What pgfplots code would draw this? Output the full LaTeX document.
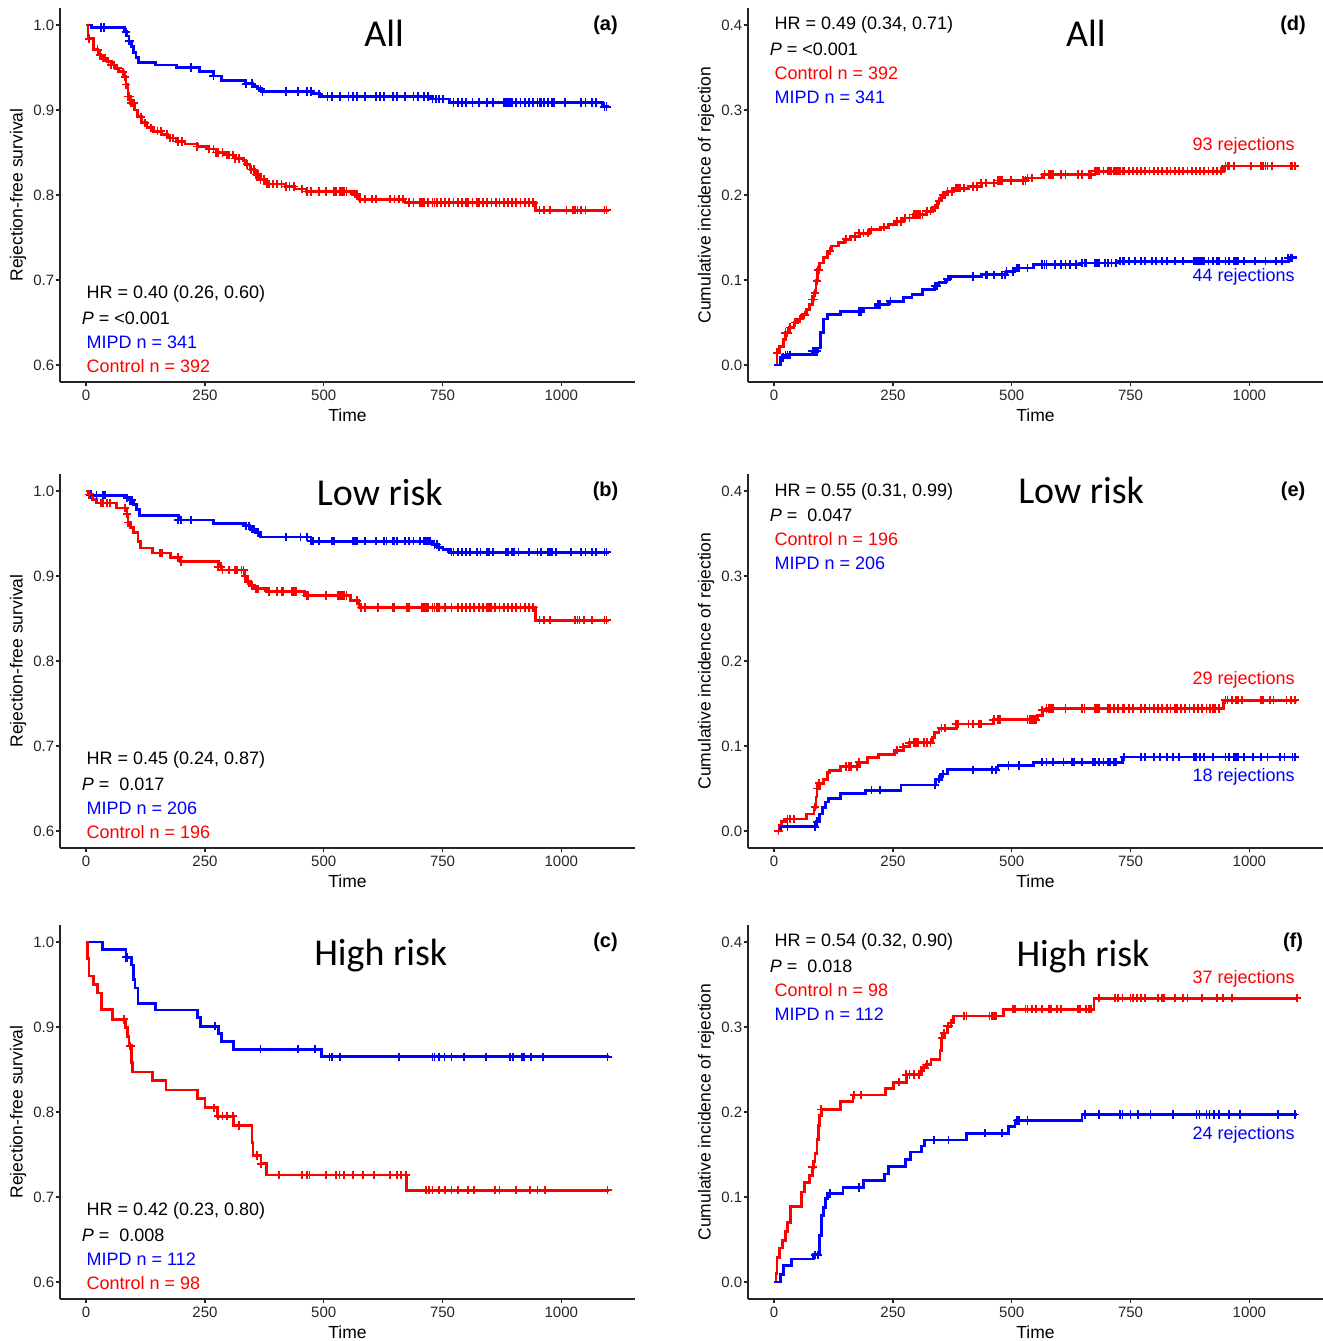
\documentclass[border=0pt]{standalone}
\usepackage{fontspec}
\setmainfont{Liberation Sans}
\newfontfamily\titlefont{Carlito}
\usepackage{pgfplots}
\pgfplotsset{compat=1.18}
\definecolor{kred}{RGB}{255,0,0}
\definecolor{kblue}{RGB}{0,0,255}
\newcommand\annf{\fontsize{9}{10.5}\selectfont}
\newcommand\ttlf{\titlefont\fontsize{19}{22}\selectfont}
\newcommand\letf{\bfseries\fontsize{10}{11}\selectfont}
\tikzset{ann/.style={font=\annf, anchor=west, inner xsep=0pt}}
\pgfplotsset{
 base/.style={
  scale only axis, width=287.5pt, height=187pt,
  anchor=south west,
  axis x line=bottom, axis y line=left,
  axis line style={-, line width=0.8pt, black!85},
  tick style={line width=0.7pt, black!85},
  tick align=outside, major tick length=2.2pt,
  xmin=-55, xmax=1155,
  xtick={0,250,500,750,1000},
  ticklabel style={font=\fontsize{7.5}{9}\selectfont, text=black!85},
  /pgf/number format/assume math mode=true,
  /pgf/number format/1000 sep={},
  yticklabel style={/pgf/number format/.cd, fixed, fixed zerofill, precision=1, assume math mode=true, /tikz/.cd, inner xsep=0.5pt},
  xticklabel style={inner ysep=1.5pt},
  xlabel={Time},
  xlabel style={at={(axis description cs:0.5,-0.0882)}, anchor=center, font=\fontsize{8.75}{10}\selectfont},
  ylabel style={at={(axis description cs:-0.073,0.5)}, anchor=center, font=\fontsize{8.75}{10}\selectfont},
  clip=false,
 },
 surv/.style={base, ymin=0.58, ymax=1.02, ytick={0.6,0.7,0.8,0.9,1.0}, ylabel={Rejection-free survival}},
 cinc/.style={base, ymin=-0.02, ymax=0.42, ytick={0,0.1,0.2,0.3,0.4}, ylabel={Cumulative incidence of rejection}},
 stp/.style={const plot, no marks, line width=1.4pt, #1},
 cen/.style={only marks, mark=+, mark size=2.1pt, line width=0.9pt, #1},
}
\begin{document}
\begin{tikzpicture}
\useasboundingbox (0,0) rectangle (661.5pt,670.5pt);

% ---------------- (a)
\begin{axis}[surv, at={(30pt,479.5pt)}]
\addplot[stp=kblue] coordinates {(0,1.000)(12,0.997)(80,0.992)(85,0.987)(90,0.981)(95,0.975)(100,0.968)(105,0.962)(110,0.956)(146,0.953)(190,0.950)(238,0.945)(268,0.940)(285,0.935)(335,0.931)(350,0.928)(360,0.925)(370,0.922)(477,0.919)(492,0.916)(729,0.913)(765,0.909)(1087,0.904)(1100,0.904)};
\addplot[cen=kblue] coordinates {(31,0.997)(38,0.997)(84,0.992)(91,0.981)(221,0.950)(268,0.940)(336,0.931)(349,0.931)(367,0.925)(371,0.922)(420,0.922)(446,0.922)(464,0.922)(473,0.922)(490,0.919)(508,0.916)(517,0.916)(534,0.916)(552,0.916)(561,0.916)(570,0.916)(587,0.916)(610,0.916)(618,0.916)(627,0.916)(645,0.916)(654,0.916)(671,0.916)(689,0.916)(698,0.916)(711,0.916)(720,0.916)(729,0.913)(736,0.913)(742,0.913)(751,0.913)(773,0.909)(782,0.909)(791,0.909)(799,0.909)(813,0.909)(826,0.909)(844,0.909)(857,0.909)(879,0.909)(883,0.909)(888,0.909)(892,0.909)(897,0.909)(905,0.909)(914,0.909)(923,0.909)(932,0.909)(941,0.909)(950,0.909)(954,0.909)(958,0.909)(963,0.909)(972,0.909)(981,0.909)(985,0.909)(1007,0.909)(1042,0.909)(1051,0.909)(1064,0.909)(1073,0.909)(1091,0.904)(1095,0.904)};
\addplot[stp=kred] coordinates {(0,1.000)(4,0.984)(15,0.971)(25,0.965)(31,0.961)(44,0.957)(53,0.953)(62,0.949)(69,0.945)(78,0.939)(84,0.930)(88,0.916)(94,0.908)(101,0.900)(108,0.892)(117,0.885)(128,0.879)(141,0.875)(159,0.871)(172,0.867)(190,0.863)(208,0.860)(234,0.857)(256,0.854)(274,0.850)(292,0.847)(314,0.843)(331,0.841)(336,0.836)(345,0.830)(354,0.824)(367,0.818)(380,0.813)(420,0.810)(438,0.807)(464,0.804)(561,0.801)(575,0.795)(671,0.791)(945,0.782)(1100,0.782)};
\addplot[cen=kred] coordinates {(6,0.984)(24,0.971)(29,0.965)(35,0.961)(40,0.961)(47,0.957)(53,0.953)(59,0.953)(66,0.949)(77,0.945)(82,0.939)(84,0.930)(88,0.916)(91,0.916)(95,0.908)(97,0.908)(100,0.908)(115,0.892)(124,0.885)(137,0.879)(150,0.875)(157,0.875)(170,0.871)(177,0.867)(183,0.867)(194,0.863)(201,0.863)(234,0.857)(259,0.854)(268,0.854)(274,0.850)(278,0.850)(287,0.850)(296,0.847)(300,0.847)(309,0.847)(314,0.843)(322,0.843)(338,0.836)(347,0.830)(353,0.830)(358,0.824)(362,0.824)(367,0.818)(374,0.818)(380,0.813)(384,0.813)(393,0.813)(402,0.813)(411,0.813)(420,0.810)(428,0.810)(437,0.810)(455,0.807)(464,0.804)(473,0.804)(490,0.804)(504,0.804)(521,0.804)(526,0.804)(534,0.804)(539,0.804)(543,0.804)(548,0.804)(565,0.801)(570,0.801)(577,0.795)(587,0.795)(601,0.795)(610,0.795)(640,0.795)(649,0.795)(658,0.795)(667,0.795)(680,0.791)(689,0.791)(702,0.791)(707,0.791)(711,0.791)(720,0.791)(729,0.791)(733,0.791)(738,0.791)(746,0.791)(755,0.791)(764,0.791)(773,0.791)(782,0.791)(791,0.791)(800,0.791)(804,0.791)(813,0.791)(822,0.791)(826,0.791)(835,0.791)(844,0.791)(853,0.791)(862,0.791)(870,0.791)(879,0.791)(888,0.791)(897,0.791)(905,0.791)(914,0.791)(923,0.791)(932,0.791)(941,0.791)(954,0.782)(963,0.782)(976,0.782)(1011,0.782)(1025,0.782)(1029,0.782)(1034,0.782)(1042,0.782)(1051,0.782)(1091,0.782)(1095,0.782)};
\node[font=\ttlf] at (axis cs:627,0.9906) {All};
\node[font=\letf] at (axis cs:1093,1.0) {(a)};
\node[ann] at (axis cs:0,0.6833) {HR = 0.40 (0.26, 0.60)};
\node[ann] at (axis cs:-10,0.6551) {\textit{P} = <0.001};
\node[ann, text=kblue] at (axis cs:0,0.6270) {MIPD n = 341};
\node[ann, text=kred] at (axis cs:0,0.5988) {Control n = 392};
\end{axis}

% ---------------- (d)
\begin{axis}[cinc, at={(374pt,479.5pt)}]
\addplot[stp=kred] coordinates {(0,0)(6,0.0145)(11,0.022)(19,0.030)(24,0.038)(33,0.044)(42,0.050)(50,0.054)(59,0.059)(68,0.065)(74,0.071)(80,0.077)(84,0.085)(88,0.099)(92,0.112)(96,0.120)(104,0.126)(112,0.134)(121,0.140)(135,0.144)(148,0.148)(161,0.151)(179,0.155)(201,0.159)(223,0.162)(241,0.165)(254,0.169)(272,0.173)(294,0.177)(321,0.181)(334,0.185)(343,0.193)(352,0.200)(365,0.204)(378,0.208)(409,0.210)(436,0.214)(471,0.217)(533,0.220)(564,0.224)(675,0.228)(945,0.234)(1100,0.234)};
\addplot[cen=kred] coordinates {(6,0.0145)(24,0.038)(28,0.038)(33,0.044)(44,0.050)(55,0.054)(64,0.059)(80,0.077)(83,0.077)(86,0.085)(90,0.099)(92,0.112)(95,0.112)(117,0.134)(152,0.148)(170,0.151)(179,0.155)(188,0.155)(197,0.155)(205,0.159)(232,0.162)(259,0.169)(267,0.169)(276,0.173)(285,0.173)(294,0.177)(298,0.177)(303,0.177)(307,0.177)(312,0.177)(321,0.181)(329,0.181)(338,0.185)(347,0.193)(356,0.200)(360,0.200)(365,0.204)(374,0.204)(383,0.208)(387,0.208)(391,0.208)(400,0.208)(418,0.210)(427,0.210)(436,0.214)(445,0.214)(462,0.214)(471,0.217)(476,0.217)(480,0.217)(498,0.217)(524,0.217)(529,0.217)(533,0.220)(542,0.220)(569,0.224)(578,0.224)(582,0.224)(586,0.224)(604,0.224)(613,0.224)(640,0.224)(648,0.224)(662,0.224)(666,0.224)(675,0.228)(679,0.228)(684,0.228)(693,0.228)(702,0.228)(706,0.228)(710,0.228)(715,0.228)(719,0.228)(724,0.228)(728,0.228)(733,0.228)(737,0.228)(746,0.228)(755,0.228)(764,0.228)(772,0.228)(781,0.228)(790,0.228)(799,0.228)(808,0.228)(817,0.228)(826,0.228)(834,0.228)(843,0.228)(852,0.228)(861,0.228)(870,0.228)(879,0.228)(887,0.228)(896,0.228)(905,0.228)(914,0.228)(923,0.228)(932,0.228)(941,0.228)(950,0.234)(954,0.234)(958,0.234)(967,0.234)(1003,0.234)(1025,0.234)(1029,0.234)(1034,0.234)(1038,0.234)(1047,0.234)(1087,0.234)(1091,0.234)(1096,0.234)};
\addplot[stp=kblue] coordinates {(0,0)(13,0.0086)(28,0.012)(81,0.016)(92,0.020)(97,0.038)(104,0.054)(112,0.059)(139,0.063)(188,0.067)(214,0.071)(241,0.075)(272,0.079)(290,0.083)(312,0.089)(338,0.093)(347,0.097)(360,0.101)(369,0.104)(436,0.106)(489,0.110)(507,0.114)(546,0.118)(648,0.120)(724,0.122)(1082,0.126)(1100,0.126)};
\addplot[cen=kblue] coordinates {(19,0.0086)(24,0.012)(28,0.012)(33,0.012)(81,0.016)(86,0.016)(90,0.016)(179,0.063)(183,0.063)(219,0.071)(223,0.071)(245,0.075)(338,0.093)(343,0.093)(365,0.101)(418,0.104)(445,0.106)(449,0.106)(462,0.106)(480,0.106)(485,0.106)(489,0.110)(502,0.110)(511,0.114)(516,0.114)(533,0.114)(564,0.118)(569,0.118)(573,0.118)(591,0.118)(604,0.118)(613,0.118)(622,0.118)(635,0.118)(648,0.120)(653,0.120)(657,0.120)(675,0.120)(679,0.120)(684,0.120)(697,0.120)(702,0.120)(710,0.120)(719,0.120)(728,0.122)(733,0.122)(737,0.122)(746,0.122)(759,0.122)(772,0.122)(781,0.122)(795,0.122)(803,0.122)(817,0.122)(826,0.122)(843,0.122)(861,0.122)(883,0.122)(887,0.122)(892,0.122)(896,0.122)(901,0.122)(905,0.122)(914,0.122)(923,0.122)(932,0.122)(936,0.122)(950,0.122)(958,0.122)(967,0.122)(972,0.122)(976,0.122)(989,0.122)(1012,0.122)(1034,0.122)(1056,0.122)(1069,0.122)(1082,0.126)(1087,0.126)(1091,0.126)};
\node[font=\ttlf] at (axis cs:656,0.3906) {All};
\node[font=\letf] at (axis cs:1092,0.4) {(d)};
\node[ann] at (axis cs:0,0.4) {HR = 0.49 (0.34, 0.71)};
\node[ann] at (axis cs:-10,0.3718) {\textit{P} = <0.001};
\node[ann, text=kred] at (axis cs:0,0.3437) {Control n = 392};
\node[ann, text=kblue] at (axis cs:0,0.3155) {MIPD n = 341};
\node[font=\annf, anchor=east, inner xsep=0pt, text=kred] at (axis cs:1096,0.258) {93 rejections};
\node[font=\annf, anchor=east, inner xsep=0pt, text=kblue] at (axis cs:1096,0.1032) {44 rejections};
\end{axis}

% ---------------- (b)
\begin{axis}[surv, at={(30pt,246.5pt)}]
\addplot[stp=kblue] coordinates {(0,1.000)(9,0.995)(84,0.992)(93,0.989)(100,0.984)(106,0.978)(113,0.971)(194,0.966)(268,0.962)(336,0.959)(345,0.955)(358,0.951)(367,0.946)(473,0.941)(729,0.937)(740,0.934)(751,0.931)(764,0.928)(1100,0.928)};
\addplot[cen=kblue] coordinates {(9,0.995)(22,0.995)(35,0.995)(40,0.995)(86,0.992)(93,0.989)(97,0.989)(194,0.966)(199,0.966)(221,0.966)(336,0.959)(343,0.959)(349,0.955)(353,0.955)(362,0.951)(420,0.946)(451,0.946)(464,0.946)(473,0.941)(477,0.941)(490,0.941)(517,0.941)(521,0.941)(561,0.941)(565,0.941)(570,0.941)(587,0.941)(610,0.941)(627,0.941)(632,0.941)(645,0.941)(649,0.941)(654,0.941)(671,0.941)(680,0.941)(689,0.941)(702,0.941)(711,0.941)(716,0.941)(720,0.941)(724,0.941)(733,0.937)(738,0.937)(742,0.934)(769,0.928)(773,0.928)(782,0.928)(791,0.928)(799,0.928)(808,0.928)(822,0.928)(830,0.928)(844,0.928)(848,0.928)(857,0.928)(883,0.928)(888,0.928)(897,0.928)(901,0.928)(910,0.928)(932,0.928)(950,0.928)(958,0.928)(972,0.928)(976,0.928)(981,0.928)(989,0.928)(1020,0.928)(1042,0.928)(1051,0.928)(1064,0.928)(1073,0.928)(1091,0.928)(1095,0.928)};
\addplot[stp=kred] coordinates {(0,1.000)(4,0.996)(13,0.990)(22,0.986)(64,0.980)(86,0.973)(88,0.963)(93,0.957)(100,0.951)(109,0.941)(115,0.933)(139,0.927)(177,0.922)(199,0.917)(278,0.911)(285,0.907)(333,0.900)(336,0.894)(343,0.889)(353,0.885)(380,0.882)(459,0.877)(557,0.871)(574,0.863)(945,0.848)(1100,0.848)};
\addplot[cen=kred] coordinates {(6,0.996)(31,0.986)(35,0.986)(44,0.986)(50,0.986)(82,0.980)(86,0.973)(88,0.963)(155,0.927)(159,0.927)(194,0.922)(199,0.917)(278,0.911)(283,0.911)(287,0.907)(300,0.907)(314,0.907)(318,0.907)(327,0.907)(331,0.907)(334,0.900)(340,0.894)(349,0.889)(358,0.885)(362,0.885)(384,0.882)(402,0.882)(411,0.882)(415,0.882)(433,0.882)(437,0.882)(442,0.882)(464,0.877)(468,0.877)(504,0.877)(530,0.877)(534,0.877)(539,0.877)(543,0.877)(548,0.877)(570,0.871)(579,0.863)(587,0.863)(614,0.863)(645,0.863)(649,0.863)(676,0.863)(680,0.863)(707,0.863)(711,0.863)(716,0.863)(720,0.863)(729,0.863)(733,0.863)(738,0.863)(742,0.863)(755,0.863)(769,0.863)(782,0.863)(791,0.863)(799,0.863)(808,0.863)(817,0.863)(826,0.863)(835,0.863)(844,0.863)(848,0.863)(852,0.863)(861,0.863)(870,0.863)(879,0.863)(888,0.863)(897,0.863)(905,0.863)(914,0.863)(923,0.863)(932,0.863)(941,0.863)(954,0.848)(963,0.848)(976,0.848)(1029,0.848)(1034,0.848)(1038,0.848)(1047,0.848)(1064,0.848)(1091,0.848)(1095,0.848)};
\node[font=\ttlf] at (axis cs:618,0.998) {Low risk};
\node[font=\letf] at (axis cs:1093,1.0) {(b)};
\node[ann] at (axis cs:0,0.6833) {HR = 0.45 (0.24, 0.87)};
\node[ann] at (axis cs:-10,0.6551) {\textit{P} =\ \ 0.017};
\node[ann, text=kblue] at (axis cs:0,0.6270) {MIPD n = 206};
\node[ann, text=kred] at (axis cs:0,0.5988) {Control n = 196};
\end{axis}

% ---------------- (e)
\begin{axis}[cinc, at={(374pt,246.5pt)}]
\addplot[stp=kred] coordinates {(0,0)(11,0.007)(15,0.011)(24,0.014)(68,0.020)(84,0.028)(88,0.040)(90,0.050)(95,0.056)(104,0.061)(112,0.069)(117,0.071)(139,0.076)(179,0.081)(197,0.086)(219,0.090)(254,0.095)(272,0.099)(285,0.104)(334,0.110)(338,0.116)(347,0.121)(383,0.126)(462,0.131)(555,0.136)(564,0.142)(573,0.144)(945,0.154)(1100,0.154)};
\addplot[cen=kred] coordinates {(9,0.0)(28,0.014)(33,0.014)(42,0.014)(86,0.028)(90,0.050)(95,0.056)(152,0.076)(157,0.076)(161,0.076)(174,0.076)(179,0.081)(259,0.095)(272,0.099)(285,0.104)(294,0.104)(298,0.104)(303,0.104)(316,0.104)(321,0.104)(329,0.104)(352,0.121)(360,0.121)(383,0.126)(387,0.126)(409,0.126)(418,0.126)(431,0.126)(436,0.126)(462,0.131)(471,0.131)(476,0.131)(533,0.131)(538,0.131)(542,0.131)(546,0.131)(551,0.131)(564,0.142)(573,0.144)(578,0.144)(582,0.144)(586,0.144)(613,0.144)(648,0.144)(653,0.144)(675,0.144)(679,0.144)(684,0.144)(702,0.144)(706,0.144)(715,0.144)(724,0.144)(733,0.144)(737,0.144)(746,0.144)(755,0.144)(772,0.144)(781,0.144)(790,0.144)(799,0.144)(808,0.144)(817,0.144)(826,0.144)(834,0.144)(843,0.144)(848,0.144)(857,0.144)(865,0.144)(874,0.144)(883,0.144)(892,0.144)(901,0.144)(910,0.144)(918,0.144)(923,0.144)(927,0.144)(936,0.144)(950,0.154)(954,0.154)(963,0.154)(972,0.154)(976,0.154)(985,0.154)(1025,0.154)(1029,0.154)(1043,0.154)(1051,0.154)(1078,0.154)(1087,0.154)(1096,0.154)};
\addplot[stp=kblue] coordinates {(0,0)(13,0.005)(89,0.011)(95,0.020)(101,0.028)(108,0.034)(115,0.038)(139,0.044)(192,0.048)(267,0.054)(340,0.061)(352,0.067)(365,0.072)(471,0.077)(546,0.081)(733,0.087)(1100,0.087)};
\addplot[cen=kblue] coordinates {(28,0.005)(86,0.005)(90,0.011)(205,0.048)(223,0.048)(338,0.054)(347,0.061)(356,0.067)(418,0.072)(458,0.072)(467,0.072)(493,0.077)(516,0.077)(564,0.081)(573,0.081)(586,0.081)(609,0.081)(626,0.081)(631,0.081)(648,0.081)(671,0.081)(675,0.081)(684,0.081)(693,0.081)(702,0.081)(706,0.081)(715,0.081)(719,0.081)(737,0.087)(772,0.087)(781,0.087)(799,0.087)(812,0.087)(826,0.087)(839,0.087)(852,0.087)(883,0.087)(887,0.087)(896,0.087)(905,0.087)(923,0.087)(950,0.087)(958,0.087)(967,0.087)(972,0.087)(976,0.087)(989,0.087)(1007,0.087)(1025,0.087)(1038,0.087)(1065,0.087)(1074,0.087)(1091,0.087)(1096,0.087)};
\node[font=\ttlf] at (axis cs:646,0.401) {Low risk};
\node[font=\letf] at (axis cs:1092,0.4) {(e)};
\node[ann] at (axis cs:0,0.399) {HR = 0.55 (0.31, 0.99)};
\node[ann] at (axis cs:-10,0.3718) {\textit{P} =\ \ 0.047};
\node[ann, text=kred] at (axis cs:0,0.3437) {Control n = 196};
\node[ann, text=kblue] at (axis cs:0,0.3155) {MIPD n = 206};
\node[font=\annf, anchor=east, inner xsep=0pt, text=kred] at (axis cs:1096,0.1783) {29 rejections};
\node[font=\annf, anchor=east, inner xsep=0pt, text=kblue] at (axis cs:1096,0.0633) {18 rejections};
\end{axis}

% ---------------- (c)
\begin{axis}[surv, at={(30pt,21pt)}]
\addplot[stp=kblue] coordinates {(0,1.000)(35,0.991)(84,0.982)(95,0.973)(100,0.956)(103,0.946)(109,0.928)(146,0.920)(234,0.911)(241,0.901)(278,0.892)(285,0.883)(310,0.874)(495,0.865)(1100,0.865)};
\addplot[cen=kblue] coordinates {(84,0.982)(86,0.982)(271,0.901)(367,0.874)(446,0.874)(481,0.874)(512,0.865)(517,0.865)(534,0.865)(658,0.865)(729,0.865)(733,0.865)(742,0.865)(754,0.865)(769,0.865)(795,0.865)(841,0.865)(892,0.865)(898,0.865)(917,0.865)(921,0.865)(936,0.865)(961,0.865)(1097,0.865)};
\addplot[stp=kred] coordinates {(0,1.000)(3,0.981)(6,0.960)(15,0.950)(24,0.940)(33,0.921)(56,0.909)(82,0.899)(87,0.889)(90,0.878)(95,0.858)(97,0.847)(139,0.837)(168,0.826)(234,0.816)(250,0.805)(277,0.795)(310,0.784)(349,0.764)(351,0.749)(368,0.739)(379,0.726)(674,0.708)(1100,0.708)};
\addplot[cen=kred] coordinates {(80,0.909)(93,0.878)(269,0.805)(278,0.795)(287,0.795)(296,0.795)(309,0.795)(322,0.784)(360,0.749)(368,0.739)(406,0.726)(455,0.726)(464,0.726)(470,0.726)(504,0.726)(526,0.726)(533,0.726)(543,0.726)(561,0.726)(583,0.726)(605,0.726)(640,0.726)(654,0.726)(663,0.726)(673,0.726)(716,0.708)(722,0.708)(729,0.708)(742,0.708)(755,0.708)(769,0.708)(782,0.708)(804,0.708)(817,0.708)(861,0.708)(870,0.708)(904,0.708)(934,0.708)(950,0.708)(966,0.708)(1097,0.708)};
\node[font=\ttlf] at (axis cs:620,0.9836) {High risk};
\node[font=\letf] at (axis cs:1093,1.0) {(c)};
\node[ann] at (axis cs:0,0.6833) {HR = 0.42 (0.23, 0.80)};
\node[ann] at (axis cs:-10,0.6551) {\textit{P} =\ \ 0.008};
\node[ann, text=kblue] at (axis cs:0,0.6270) {MIPD n = 112};
\node[ann, text=kred] at (axis cs:0,0.5988) {Control n = 98};
\end{axis}

% ---------------- (f)
\begin{axis}[cinc, at={(374pt,21pt)}]
\addplot[stp=kred] coordinates {(0,0)(4,0.010)(6,0.029)(11,0.040)(18,0.049)(24,0.059)(28,0.070)(35,0.089)(57,0.106)(64,0.117)(74,0.125)(80,0.135)(83,0.142)(86,0.151)(90,0.168)(93,0.184)(96,0.196)(99,0.203)(139,0.212)(166,0.220)(234,0.228)(252,0.235)(278,0.244)(310,0.252)(321,0.256)(330,0.262)(349,0.272)(352,0.287)(358,0.293)(365,0.301)(372,0.305)(378,0.313)(482,0.321)(673,0.334)(1100,0.334)};
\addplot[cen=kred] coordinates {(81,0.135)(99,0.203)(168,0.220)(183,0.220)(263,0.235)(278,0.244)(285,0.244)(294,0.244)(305,0.244)(316,0.252)(321,0.256)(353,0.287)(358,0.293)(365,0.301)(367,0.301)(372,0.305)(400,0.313)(405,0.313)(453,0.313)(458,0.313)(462,0.313)(467,0.313)(502,0.321)(507,0.321)(529,0.321)(533,0.321)(542,0.321)(551,0.321)(564,0.321)(578,0.321)(582,0.321)(595,0.321)(604,0.321)(640,0.321)(644,0.321)(657,0.321)(662,0.321)(666,0.321)(684,0.334)(717,0.334)(724,0.334)(733,0.334)(750,0.334)(755,0.334)(764,0.334)(772,0.334)(781,0.334)(808,0.334)(817,0.334)(821,0.334)(843,0.334)(861,0.334)(870,0.334)(901,0.334)(932,0.334)(945,0.334)(963,0.334)(1100,0.334)};
\addplot[stp=kblue] coordinates {(0,0)(13,0.009)(19,0.019)(37,0.027)(83,0.032)(95,0.055)(99,0.078)(104,0.088)(108,0.098)(112,0.104)(145,0.111)(188,0.119)(232,0.127)(241,0.136)(276,0.144)(287,0.153)(310,0.160)(316,0.167)(405,0.175)(493,0.183)(507,0.190)(648,0.197)(1100,0.197)};
\addplot[cen=kblue] coordinates {(86,0.032)(92,0.032)(117,0.104)(179,0.111)(337,0.167)(367,0.167)(443,0.175)(480,0.175)(511,0.190)(516,0.190)(533,0.190)(655,0.197)(684,0.197)(728,0.197)(733,0.197)(750,0.197)(765,0.197)(792,0.197)(839,0.197)(889,0.197)(895,0.197)(910,0.197)(916,0.197)(925,0.197)(936,0.197)(958,0.197)(981,0.197)(1060,0.197)(1096,0.197)};
\node[font=\ttlf] at (axis cs:650,0.3824) {High risk};
\node[font=\letf] at (axis cs:1092,0.4) {(f)};
\node[ann] at (axis cs:0,0.4) {HR = 0.54 (0.32, 0.90)};
\node[ann] at (axis cs:-10,0.3718) {\textit{P} =\ \ 0.018};
\node[ann, text=kred] at (axis cs:0,0.3437) {Control n = 98};
\node[ann, text=kblue] at (axis cs:0,0.3155) {MIPD n = 112};
\node[font=\annf, anchor=east, inner xsep=0pt, text=kred] at (axis cs:1096,0.3566) {37 rejections};
\node[font=\annf, anchor=east, inner xsep=0pt, text=kblue] at (axis cs:1096,0.1736) {24 rejections};
\end{axis}
\end{tikzpicture}
\end{document}
